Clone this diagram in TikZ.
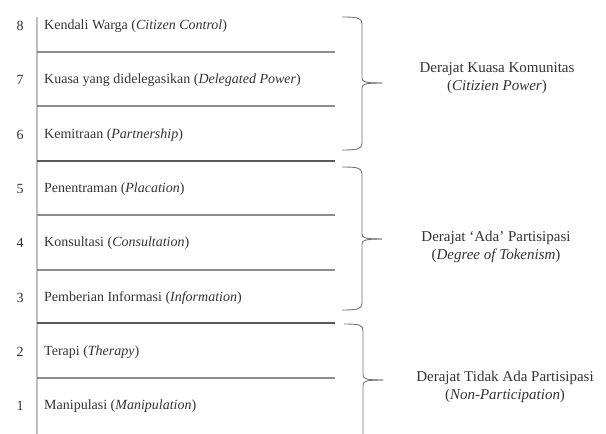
\documentclass[tikz,border=0pt]{standalone}
\usepackage{fontspec}
\setmainfont{Liberation Serif}
\begin{document}
\begin{tikzpicture}[x=1pt,y=-1pt,
  lbl/.style={font=\fontsize{14}{17}\selectfont, text=black!80, inner sep=0pt, anchor=west},
  num/.style={font=\fontsize{14}{17}\selectfont, text=black!80, inner sep=0pt},
  grp/.style={font=\fontsize{15}{18.5}\selectfont, text=black!80, inner sep=0pt, align=center},
  rule/.style={draw=black!45, line width=1.1pt},
  strongrule/.style={draw=black!65, line width=1.2pt},
  brc/.style={draw=black!55, line width=0.9pt}]
\useasboundingbox (0,0) rectangle (606,434);
\draw[draw=black!25, line width=1.3pt] (37,17) -- (37,434);
\foreach \y in {52,106,215,270,378} \draw[rule] (37,\y) -- (335,\y);
\foreach \y in {161,323} \draw[strongrule] (37,\y) -- (335,\y);
\node[num] (n8) at (20,26) {8};
\node[num] (n7) at (20,80) {7};
\node[num] (n6) at (20,135) {6};
\node[num] (n5) at (20,189) {5};
\node[num] (n4) at (20,243) {4};
\node[num] (n3) at (20,298) {3};
\node[num] (n2) at (20,352) {2};
\node[num] (n1) at (20,406) {1};
\node[lbl] (t8) at (44,26) {Kendali Warga (\textit{Citizen Control})};
\node[lbl] (t7) at (44,80) {Kuasa yang didelegasikan (\textit{Delegated Power})};
\node[lbl] (t6) at (44,135) {Kemitraan (\textit{Partnership})};
\node[lbl] (t5) at (44,189) {Penentraman (\textit{Placation})};
\node[lbl] (t4) at (44,243) {Konsultasi (\textit{Consultation})};
\node[lbl] (t3) at (44,298) {Pemberian Informasi (\textit{Information})};
\node[lbl] (t2) at (44,352) {Terapi (\textit{Therapy})};
\node[lbl] (t1) at (44,406) {Manipulasi (\textit{Manipulation})};
% braces
\draw[brc] (342,17) .. controls (358,17) and (362,18) .. (362,24) -- (362,78)
  .. controls (362,82) and (366,83) .. (382,83);
\draw[brc] (382,83) .. controls (366,83) and (362,84) .. (362,88) -- (362,143)
  .. controls (362,149) and (358,150) .. (342,150);
\draw[brc] (342,167) .. controls (358,167) and (362,168) .. (362,174) -- (362,234)
  .. controls (362,238) and (366,239) .. (382,239);
\draw[brc] (382,239) .. controls (366,239) and (362,240) .. (362,244) -- (362,303)
  .. controls (362,309) and (358,310) .. (342,310);
\draw[brc] (344,324) .. controls (360,324) and (363,325) .. (363,331) -- (363,375)
  .. controls (363,379) and (367,380) .. (383,380);
\draw[brc] (383,380) .. controls (367,380) and (363,381) .. (363,385) -- (363,434);
\node[grp] (g1) at (497,78) {Derajat Kuasa Komunitas\\(\textit{Citizien Power})};
\node[grp] (g2) at (496,247) {Derajat `Ada' Partisipasi\\(\textit{Degree of Tokenism})};
\node[grp] (g3) at (505,387) {Derajat Tidak Ada Partisipasi\\(\textit{Non-Participation})};
\end{tikzpicture}
\end{document}
